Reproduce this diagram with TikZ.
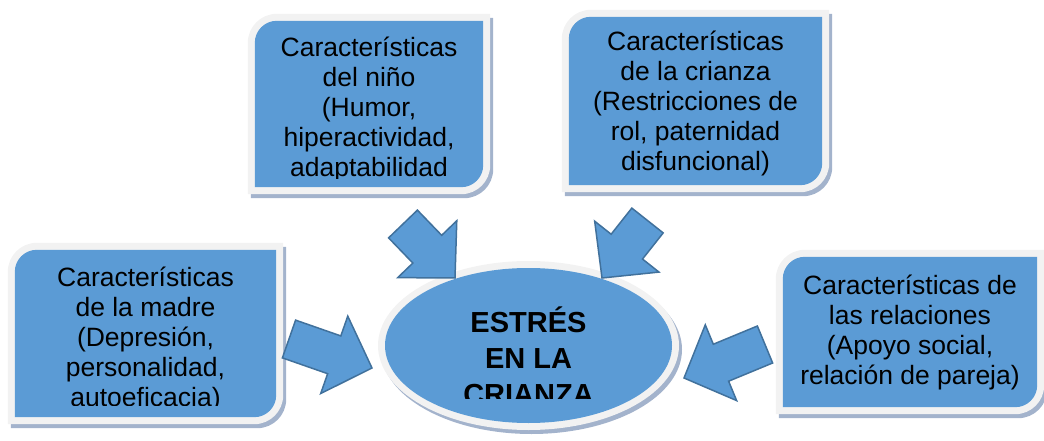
\documentclass[tikz,border=0pt]{standalone}
\usepackage{fontspec}
\setmainfont{Liberation Sans}
\usetikzlibrary{calc,backgrounds}

\definecolor{boxblue}{RGB}{91,155,213}
\definecolor{arrowedge}{RGB}{65,113,156}
\definecolor{ringgray}{RGB}{242,242,242}
\definecolor{shadowblue}{RGB}{163,179,204}

\tikzset{
  boxtext/.style={inner sep=0pt, align=center, text=black,
    font=\fontsize{26.5}{30}\selectfont},
  ovaltext/.style={inner sep=0pt, align=center, text=black,
    font=\fontsize{29}{36}\selectfont\bfseries},
  blockarr/.style={fill=boxblue, draw=arrowedge, line width=1.5pt, line join=miter},
}

% box with round top-left and bottom-right corners
% #1 colour, #2 node, #3 grow, #4 radius, #5 #6 offset
\newcommand{\diagshape}[6]{%
  \fill[#1] ([shift={(#5-#3,#6-#3+#4)}]#2.north west) arc[start angle=180, end angle=90, radius=#4pt]
    -- ([shift={(#5+#3,#6-#3)}]#2.north east)
    -- ([shift={(#5+#3,#6+#3-#4)}]#2.south east) arc[start angle=0, end angle=-90, radius=#4pt]
    -- ([shift={(#5-#3,#6+#3)}]#2.south west) -- cycle;}

% fat arrow from tail #1 to tip #2
\newcommand{\blockarrow}[2]{%
  \coordinate (#1-base) at ($(#2)!40pt!(#1)$);
  \draw[blockarr] ($(#1)!20pt!90:(#2)$) -- ($(#1-base)!20pt!-90:(#1)$)
    -- ($(#1-base)!41pt!-90:(#1)$) -- (#2) -- ($(#1-base)!41pt!90:(#1)$)
    -- ($(#1-base)!20pt!90:(#1)$) -- ($(#1)!20pt!-90:(#2)$) -- cycle;}

\begin{document}
\begin{tikzpicture}[x=1pt, y=-1pt]
\useasboundingbox (0,0) rectangle (1044,441);

% the four boxes (text sits a little low, overflow is cut)
\begin{scope}
  \clip (255,21) rectangle (483,178);
  \node[boxtext, minimum width=228pt, minimum height=166pt] (nino) at (369,109)
    {Características\\del niño\\(Humor,\\hiperactividad,\\adaptabilidad};
\end{scope}
\node[boxtext, minimum width=253pt, minimum height=168pt] (crianza) at (695.5,103)
  {Características\\de la crianza\\(Restricciones de\\rol, paternidad\\disfuncional)};
\begin{scope}
  \clip (15,250) rectangle (276,405);
  \node[boxtext, minimum width=261pt, minimum height=167pt] (madre) at (145.5,339)
    {Características\\de la madre\\(Depresión,\\personalidad,\\autoeficacia)};
\end{scope}
\node[boxtext, minimum width=254pt, minimum height=150pt] (relaciones) at (910,332)
  {Características de\\las relaciones\\(Apoyo social,\\relación de pareja)};

% centre
\coordinate (centro) at (528.5,345.5);
\begin{scope}
  \clip (385,268) rectangle (672,398);
  \node[ovaltext] (estres) at (528.5,356) {ESTRÉS\\EN LA\\CRIANZA};
\end{scope}

\begin{scope}[on background layer]
  \foreach \b/\dy in {nino/-5,crianza/-2,madre/-5.5,relaciones/0}{
    \diagshape{shadowblue}{\b}{7}{29}{3}{4+\dy}
    \diagshape{ringgray}{\b}{7}{29}{0}{\dy}
    \diagshape{boxblue}{\b}{0}{22}{0}{\dy}
  }
  \fill[shadowblue] ([shift={(3,4)}]centro) ellipse [x radius=150.5pt, y radius=84.5pt];
  \fill[ringgray] (centro) ellipse [x radius=150.5pt, y radius=84.5pt];
  \fill[boxblue] (centro) ellipse [x radius=143.5pt, y radius=77.5pt];
\end{scope}

% arrows
\coordinate (t1) at (403,224);   \coordinate (h1) at (455,278);
\coordinate (t2) at (647.5,220.5); \coordinate (h2) at (602,278);
\coordinate (t3) at (289,339);   \coordinate (h3) at (372,368);
\coordinate (t4) at (765,344.5); \coordinate (h4) at (684,378);
\blockarrow{t1}{h1}
\blockarrow{t2}{h2}
\blockarrow{t3}{h3}
\blockarrow{t4}{h4}

\end{tikzpicture}
\end{document}
